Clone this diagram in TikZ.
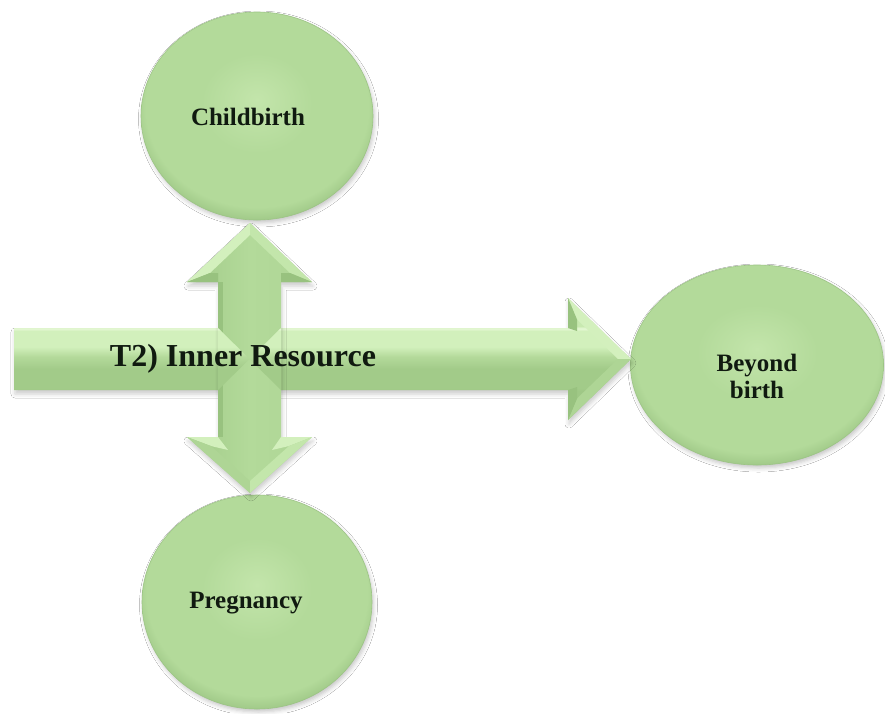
\documentclass[tikz,border=0pt]{standalone}
\usepackage{fontspec}
\setmainfont{Liberation Serif}
\usetikzlibrary{calc,shapes.geometric,shadows.blur}

% palette
\definecolor{orbHi}{HTML}{C3E5AB}
\definecolor{orbBody}{HTML}{B3DA9A}
\definecolor{orbRim}{HTML}{A0C988}
\definecolor{orbLine}{HTML}{9CC485}
\definecolor{shLo}{HTML}{A2CB89}
\definecolor{shMid}{HTML}{B4DA9B}
\definecolor{shHi}{HTML}{D2F0BC}
\definecolor{shTop}{HTML}{E6F8D6}
\definecolor{wingHi}{HTML}{C8E9B0}
\definecolor{wingLo}{HTML}{9FC886}
\definecolor{faceLight}{HTML}{D3F0BD}
\definecolor{faceSoft}{HTML}{C3E6AB}
\definecolor{faceMid}{HTML}{AED595}
\definecolor{faceDark}{HTML}{98C27F}
\definecolor{ink}{HTML}{101A10}

% round nodes: light centre raised slightly, thin darker rim
\pgfdeclareradialshading{orb}{\pgfpoint{0bp}{4bp}}{%
  color(0bp)=(orbHi); color(12bp)=(orbBody); color(24bp)=(orbBody);
  color(27bp)=(orbRim); color(50bp)=(orbRim)}

% horizontal bar: lit upper half, shaded lower half
\pgfdeclareverticalshading{hbar}{100bp}{%
  color(0bp)=(wingLo); color(37bp)=(wingLo); color(38bp)=(shLo);
  color(46bp)=(shLo); color(51bp)=(shMid); color(55bp)=(shHi);
  color(61.5bp)=(shHi); color(62.5bp)=(shTop); color(63.5bp)=(wingHi);
  color(100bp)=(wingHi)}

\tikzset{
  orbnode/.style={ellipse, draw=orbLine, line width=0.6pt, shading=orb,
    inner sep=0pt,
    blur shadow={shadow xshift=1.5pt, shadow yshift=-3pt,
      shadow blur radius=4pt, shadow opacity=22}},
  arrowbody/.style={blur shadow={shadow xshift=1pt, shadow yshift=-4pt,
      shadow blur radius=4pt, shadow opacity=20}},
  lbl/.style={font=\fontsize{25}{27}\selectfont\bfseries, text=ink,
    inner sep=0pt, align=center},
  mainlbl/.style={font=\fontsize{32}{36}\selectfont\bfseries, text=ink,
    inner sep=0pt}
}

\begin{document}
\begin{tikzpicture}[x=1pt,y=-1pt]
\useasboundingbox[fill=white] (0,0) rectangle (885,713);

% the three stages
\node[orbnode, minimum width=232pt, minimum height=208pt] (cb) at (257,116) {};
\node[orbnode, minimum width=230pt, minimum height=214pt] (pg) at (257,602) {};
\node[orbnode, minimum width=253pt, minimum height=200pt] (bb) at (757,365) {};

% anchor points of the block arrows
\coordinate (tail) at (14,359);
\coordinate (htip) at (631,359);
\coordinate (utip) at (250,223);
\coordinate (dtip) at (250,493);
\coordinate (hub)  at (249.5,359);

% horizontal block arrow towards "Beyond birth"
\def\hpath{(tail |- 0,328) -- (568,328) -- (568,298) -- (htip) -- (568,420)
  -- (568,390) -- (tail |- 0,390) -- cycle}
\path[arrowbody, shading=hbar] \hpath;
% bevel facets of its head
\fill[faceLight] (568,298) -- (htip) -- (618,359) -- (577,319.5) -- cycle;
\fill[faceMid]   (568,420) -- (htip) -- (618,359) -- (577,398.5) -- cycle;
\fill[faceDark]  (568,298) -- (577,319.5) -- (577,331) -- (568,328) -- cycle;
\fill[faceDark]  (568,420) -- (577,398.5) -- (577,387) -- (568,390) -- cycle;

% vertical double block arrow between "Pregnancy" and "Childbirth"
\path[arrowbody, left color=shLo, right color=faceMid, middle color=orbBody]
  (utip) -- (312,282) -- (281,282) -- (281,437) -- (312,437) -- (dtip)
  -- (187,437) -- (218,437) -- (218,282) -- (187,282) -- cycle;
% bevel facets of the upper head
\fill[faceLight] (utip) -- (187,282) -- (210,273) -- (250,235) -- cycle;
\fill[faceSoft]  (utip) -- (312,282) -- (290,273) -- (250,235) -- cycle;
\fill[faceDark]  (187,282) -- (218,282) -- (218,273) -- (210,273) -- cycle;
\fill[faceDark]  (312,282) -- (281,282) -- (281,273) -- (290,273) -- cycle;
% bevel facets of the lower head
\fill[faceLight] (187,437) -- (218,437) -- (228,450) -- (211,446) -- cycle;
\fill[faceLight] (312,437) -- (281,437) -- (272,450) -- (289,446) -- cycle;
\fill[faceMid]   (187,437) -- (dtip) -- (250,481) -- (211,446) -- cycle;
\fill[faceSoft]  (312,437) -- (dtip) -- (250,481) -- (289,446) -- cycle;
% left edge of the shaft
\fill[faceDark] (218,282) -- (223,282) -- (223,437) -- (218,437) -- cycle;

% mitred crossing: the horizontal bar shows through the side triangles
\begin{scope}
  \clip (218,328) -- (hub) -- (218,390) -- cycle
        (281,328) -- (hub) -- (281,390) -- cycle;
  \path[shading=hbar] \hpath;
\end{scope}

% labels
\node[mainlbl] (t2) at (243,359) {T2) Inner Resource};
\node[lbl] (cbtext) at (248,117) {Childbirth};
\node[lbl] (pgtext) at (246,603) {Pregnancy};
\node[lbl] (bbtext) at (757,376) {Beyond\\birth};
\end{tikzpicture}
\end{document}
